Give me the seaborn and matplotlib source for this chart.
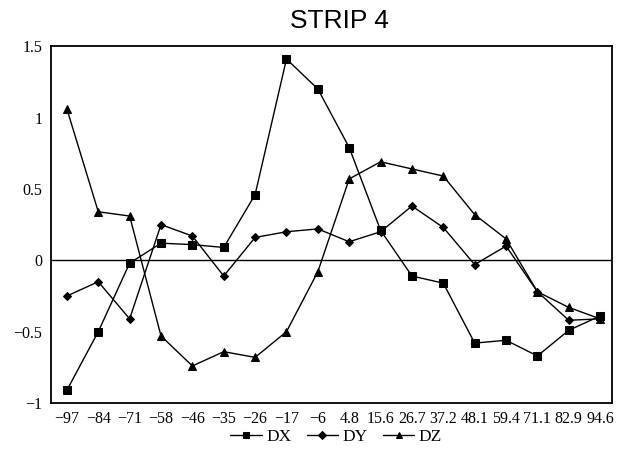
import numpy as np
import pandas as pd
import matplotlib
matplotlib.use("Agg")
import matplotlib.pyplot as plt
import seaborn as sns

categories = ["-97", "-84", "-71", "-58", "-46", "-35", "-26", "-17", "-6",
              "4.8", "15.6", "26.7", "37.2", "48.1", "59.4", "71.1", "82.9", "94.6"]
dx = [-0.91, -0.50, -0.02, 0.12, 0.11, 0.09, 0.46, 1.41, 1.20,
      0.79, 0.21, -0.11, -0.16, -0.58, -0.56, -0.67, -0.49, -0.39]
dy = [-0.25, -0.15, -0.41, 0.25, 0.17, -0.11, 0.16, 0.20, 0.22,
      0.13, 0.20, 0.38, 0.23, -0.03, 0.10, -0.22, -0.42, -0.41]
dz = [1.06, 0.34, 0.31, -0.53, -0.74, -0.64, -0.68, -0.50, -0.08,
      0.57, 0.69, 0.64, 0.59, 0.32, 0.15, -0.22, -0.33, -0.41]
y_ticks = [-1, -0.5, 0, 0.5, 1, 1.5]
y_labels = ["\u22121", "\u22120.5", "0", "0.5", "1", "1.5"]

pos = np.arange(len(categories))
df = pd.concat([
    pd.DataFrame({"pos": pos, "val": dx, "series": "DX"}),
    pd.DataFrame({"pos": pos, "val": dy, "series": "DY"}),
    pd.DataFrame({"pos": pos, "val": dz, "series": "DZ"}),
])

sns.set_style("white")
plt.rcParams["font.family"] = ["Liberation Serif", "DejaVu Serif"]
plt.rcParams["text.color"] = "black"
plt.rcParams["xtick.color"] = "black"
plt.rcParams["ytick.color"] = "black"

fig = plt.figure(figsize=(6.17, 4.57), dpi=100)
ax = fig.add_axes([0.082, 0.118, 0.910, 0.781])

sns.lineplot(data=df, x="pos", y="val", style="series", color="black",
             markers={"DX": "s", "DY": "D", "DZ": "^"}, dashes=False,
             markersize=5.5, linewidth=1, markeredgecolor="black", ax=ax,
             legend=True)
# diamonds a bit smaller
for line in ax.get_lines():
    if line.get_marker() == "D":
        line.set_markersize(4.2)

ax.axhline(0, color="black", linewidth=1)

ax.set_xlim(-0.52, 17.38)
ax.set_ylim(-1, 1.5)
ax.set_xticks(pos)
ax.set_xticklabels([c.replace("-", "\u2212") for c in categories], fontsize=11.5)
ax.set_yticks(y_ticks)
ax.set_yticklabels(y_labels, fontsize=11.5)
ax.tick_params(direction="in", length=4, width=0.8, color="black", pad=6)
ax.set_xlabel("")
ax.set_ylabel("")
for s in ax.spines.values():
    s.set_color("black")
    s.set_linewidth(1.3)

fig.suptitle("STRIP 4", x=0.55, y=0.98, fontsize=19, color="black",
             family=["Liberation Sans", "DejaVu Sans"])

handles, labels = ax.get_legend_handles_labels()
ax.get_legend().remove()
for h in handles:
    h.set_markersize(4.2 if h.get_marker() == "D" else 5)
fig.legend(handles, labels, loc="center", bbox_to_anchor=(0.545, 0.043),
           ncol=3, frameon=False, fontsize=12.5, handlelength=1.8,
           handletextpad=0.25, columnspacing=0.9)

fig.savefig("out.png", dpi=100)
